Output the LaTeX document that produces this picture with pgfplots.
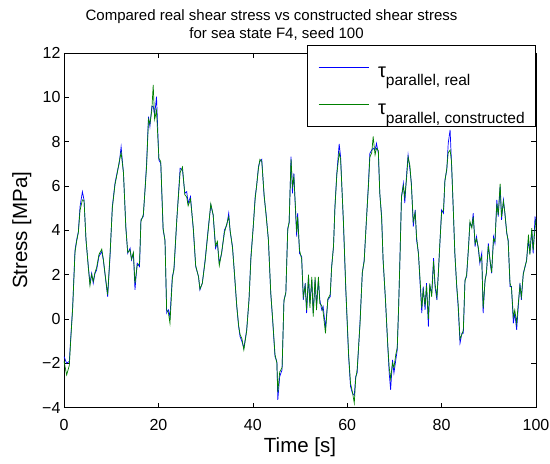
\documentclass[border=0pt]{standalone}
\usepackage{pgfplots}
\pgfplotsset{compat=1.18}
\usepackage{fontspec}
\setmainfont{Liberation Sans}
\definecolor{mblue}{RGB}{0,0,255}
\definecolor{mgreen}{RGB}{0,128,0}
\newcommand{\legtxt}[1]{\raisebox{0pt}[22pt][12pt]{\hspace*{9pt}{\fontsize{20}{20}\selectfont τ}\raisebox{-8.3pt}{\fontsize{15.5}{15.5}\selectfont #1}}}
\begin{document}
\begin{tikzpicture}[x=1pt,y=1pt]
\begin{axis}[
  name=ax,
  scale only axis,
  width=472pt, height=354.5pt,
  xmin=0, xmax=100, ymin=-4, ymax=12,
  xtick={0,20,...,100}, ytick={-4,-2,...,12},
  yticklabels={−4,−2,0,2,4,6,8,10,12},
  tick align=inside, tick pos=both,
  major tick length=5pt,
  axis line style={line width=0.6pt},
  tick style={line width=0.5pt, black},
  /pgf/number format/assume math mode=true,
  ticklabel style={font=\fontsize{16}{18}\selectfont},
  xticklabel style={yshift=-8pt},
  xlabel={Time [s]}, ylabel={Stress [MPa]},
  label style={font=\fontsize{20.5}{22}\selectfont},
  xlabel style={at={(axis description cs:0.5,-0.112)}, anchor=center},
  ylabel style={at={(axis description cs:-0.0896,0.5)}, anchor=center},
  title={Compared real shear stress vs constructed shear stress\\\hspace*{10pt}for sea state F4, seed 100},
  title style={align=center, font=\fontsize{15}{18.6}\selectfont, at={(axis description cs:0.5,1)}, anchor=south, inner sep=0pt, yshift=6pt, xshift=-28.5pt},
  legend cell align=left,
  legend style={at={(rel axis cs:1,1)}, anchor=north east, yshift=8pt, draw=black, line width=0.6pt,
    inner xsep=11pt, inner ysep=10pt, row sep=14pt, column sep=0pt,
    nodes={inner sep=0pt}},
  legend image code/.code={\draw[#1, line width=0.7pt] (0pt,0pt) -- (50pt,0pt);},
]
\addplot[mblue, line width=0.7pt] table {
0 -1.70
0.56 -2.0
1.13 -1.92
1.4 -0.95
1.84 0.56
2.33 3.1
2.68 3.56
3.04 3.94
3.4 5.07
3.9 5.74
4.24 5.37
4.66 3.56
5.16 2.36
5.5 1.61
5.86 2.06
6.2 1.61
6.57 2.06
6.9 2.2
7.4 2.81
8.0 3.04
8.33 2.66
8.83 1.76
9.25 1.0
9.75 2.81
10.24 5.07
10.8 6.12
11.3 6.65
11.7 7.02
12.1 7.77
12.6 6.57
13.1 4.17
13.5 2.96
14.0 3.19
14.3 2.66
14.7 2.96
15.04 1.31
15.5 2.51
16.0 2.36
16.3 4.47
16.8 4.62
17.2 5.97
17.5 7.02
17.9 9.13
18.2 8.68
18.6 9.58
18.9 9.6
19.2 9.2
19.6 10.03
20.1 7.17
20.5 7.02
21.0 4.01
21.4 3.56
21.75 0.26
22.1 0.41
22.45 0.1
22.95 1.91
23.3 2.2
23.9 4.47
24.6 6.8
25.1 6.72
25.6 5.67
26.0 5.74
26.3 5.22
26.8 5.52
27.4 4.01
27.9 2.36
28.5 1.91
28.8 1.31
29.3 1.61
29.9 2.66
30.6 4.17
31.1 5.14
31.6 4.69
32.1 3.19
32.5 3.41
32.9 2.51
33.4 2.96
34.0 4.01
34.5 4.24
34.9 4.77
35.2 3.94
35.7 3.26
36.1 2.06
36.6 0.56
37.0 -0.35
37.3 -0.8
37.7 -1.02
38.1 -1.32
38.7 -0.5
39.2 0.86
39.6 2.81
40.1 4.17
40.5 5.52
40.8 5.97
41.2 6.87
41.5 7.1
41.9 7.2
42.4 5.52
42.8 4.77
43.3 3.56
43.8 1.16
44.2 -0.05
44.7 -1.7
45.1 -1.92
45.3 -3.65
45.7 -2.6
46.2 -2.3
46.6 0.86
47.0 1.16
47.4 4.09
47.7 4.32
48.1 7.32
48.4 5.67
48.7 6.57
49.0 5.07
49.3 3.71
49.5 4.77
49.9 2.96
50.35 2.81
50.7 0.86
51.1 1.61
51.4 0.26
51.8 1.91
52.1 0.71
52.5 1.76
52.8 0.26
53.2 1.76
53.5 0.56
53.9 1.76
54.2 0.86
54.6 0.41
54.9 0.56
55.4 -0.4
55.9 0.86
56.4 1.0
56.7 2.36
57.1 3.26
57.4 5.07
57.8 6.57
58.3 7.9
58.6 7.32
59.2 4.32
59.7 1.31
60.3 -1.7
60.7 -3.05
61.1 -3.35
61.5 -3.45
61.8 -2.6
62.1 -2.45
62.7 -0.2
63.2 2.06
63.6 2.66
64.0 4.17
64.5 6.12
64.8 7.47
65.2 7.62
65.5 7.7
65.9 7.62
66.2 7.92
66.6 7.47
66.9 5.67
67.3 4.62
67.6 2.66
68.1 0.86
68.6 -1.25
68.9 -2.45
69.2 -3.2
69.6 -1.85
69.9 -2.45
70.3 -1.85
70.6 -1.4
70.9 0.56
71.2 2.96
71.5 5.52
71.9 6.12
72.2 5.22
72.6 6.57
72.9 7.4
73.3 6.72
73.6 6.12
74.0 4.17
74.4 4.92
74.7 3.56
75.1 2.96
75.4 1.76
75.8 0.26
76.1 1.46
76.5 0.41
76.8 1.61
77.2 -0.35
77.5 1.46
77.9 1.16
78.3 2.74
78.6 1.46
79.0 0.86
79.3 2.06
79.6 3.26
80.0 4.92
80.4 4.77
80.7 6.27
81.1 6.72
81.4 7.92
81.8 8.53
82.1 7.02
82.5 4.77
82.8 2.96
83.2 1.46
83.5 0.56
83.9 -1.1
84.3 -0.65
84.6 -0.65
84.95 1.76
85.3 1.91
85.7 3.26
86.0 4.32
86.4 4.17
86.7 4.77
87.1 3.26
87.4 3.71
87.8 3.11
88.1 2.51
88.5 2.96
88.8 0.26
89.2 1.76
89.5 2.06
89.9 3.41
90.3 2.51
90.6 2.06
91.0 3.71
91.3 3.41
91.7 5.37
92.0 4.62
92.4 5.97
92.7 4.47
93.1 5.37
93.4 4.77
93.8 3.86
94.1 3.56
94.5 1.46
94.8 1.46
95.2 -0.2
95.5 0.26
95.9 -0.5
96.2 0.41
96.6 1.61
96.9 0.86
97.3 2.06
97.7 2.36
98.0 2.66
98.4 3.56
98.7 2.96
99.1 4.01
99.4 2.96
99.8 4.62
100 4.3
};
\addlegendentry{\legtxt{parallel, real}}
\addplot[mgreen, line width=0.7pt] table {
0 -1.9
0.56 -2.53
1.13 -2.1
1.4 -1.05
1.84 0.5
2.33 3.0
2.68 3.5
3.04 3.9
3.4 4.9
3.9 5.37
4.24 5.35
4.66 3.6
5.16 2.3
5.5 1.5
5.86 2.0
6.2 1.7
6.57 2.1
6.9 2.3
7.4 2.9
8.0 3.15
8.33 2.7
8.83 1.8
9.25 1.1
9.75 2.9
10.24 5.0
10.8 6.05
11.3 6.6
11.7 7.1
12.1 7.5
12.6 6.6
13.1 4.1
13.5 3.0
14.0 3.1
14.3 2.7
14.7 3.0
15.04 1.6
15.5 2.4
16.0 2.5
16.3 4.4
16.8 4.7
17.2 5.9
17.5 6.9
17.9 9.0
18.2 8.8
18.6 9.4
18.9 10.56
19.2 9.0
19.6 9.4
20.1 7.25
20.5 7.1
21.0 4.1
21.4 3.5
21.75 0.4
22.1 0.3
22.45 -0.2
22.95 1.8
23.3 2.3
23.9 4.5
24.6 6.6
25.1 6.85
25.6 5.6
26.0 5.5
26.3 5.1
26.8 5.4
27.4 4.1
27.9 2.4
28.5 1.9
28.8 1.35
29.3 1.6
29.9 2.6
30.6 4.1
31.1 5.2
31.6 4.7
32.1 3.3
32.5 3.5
32.9 2.4
33.4 3.0
34.0 3.9
34.5 4.3
34.9 4.6
35.2 4.0
35.7 3.2
36.1 2.1
36.6 0.6
37.0 -0.3
37.3 -0.7
37.7 -0.9
38.1 -1.4
38.7 -0.55
39.2 0.9
39.6 2.7
40.1 4.2
40.5 5.4
40.8 6.0
41.2 6.8
41.5 7.2
41.9 7.1
42.4 5.6
42.8 4.7
43.3 3.6
43.8 1.2
44.2 0.0
44.7 -1.6
45.1 -2.0
45.3 -3.3
45.7 -2.4
46.2 -2.2
46.6 0.8
47.0 1.2
47.4 4.0
47.7 4.4
48.1 7.2
48.4 6.0
48.7 6.4
49.0 5.2
49.3 3.9
49.5 4.6
49.9 3.1
50.35 2.7
50.7 1.0
51.1 1.5
51.4 0.4
51.8 2.0
52.1 0.5
52.5 1.9
52.8 0.1
53.2 1.9
53.5 0.4
53.9 1.9
54.2 0.7
54.6 0.6
54.9 0.3
55.4 -0.65
55.9 0.9
56.4 1.1
56.7 2.3
57.1 3.3
57.4 5.0
57.8 6.5
58.3 7.5
58.6 7.2
59.2 4.4
59.7 1.4
60.3 -1.6
60.7 -2.9
61.1 -3.3
61.5 -3.8
61.8 -2.7
62.1 -2.3
62.7 -0.3
63.2 2.1
63.6 2.6
64.0 4.2
64.5 6.0
64.8 7.3
65.2 7.5
65.5 8.23
65.9 7.4
66.2 7.7
66.6 7.6
66.9 5.7
67.3 4.5
67.6 2.7
68.1 0.9
68.6 -1.2
68.9 -2.2
69.2 -2.7
69.6 -2.0
69.9 -2.2
70.3 -1.6
70.6 -1.3
70.9 0.6
71.2 2.9
71.5 5.5
71.9 6.0
72.2 5.5
72.6 6.4
72.9 7.3
73.3 6.9
73.6 6.0
74.0 4.4
74.4 4.8
74.7 3.7
75.1 2.9
75.4 1.9
75.8 0.5
76.1 1.3
76.5 0.6
76.8 1.5
77.2 0.0
77.5 1.6
77.9 1.0
78.3 2.6
78.6 1.6
79.0 1.0
79.3 2.0
79.6 3.3
80.0 4.8
80.4 4.9
80.7 6.2
81.1 6.8
81.4 7.5
81.8 7.62
82.1 7.1
82.5 4.8
82.8 3.0
83.2 1.5
83.5 0.7
83.9 -0.9
84.3 -0.7
84.6 -0.5
84.95 1.7
85.3 2.0
85.7 3.2
86.0 4.4
86.4 4.1
86.7 4.6
87.1 3.4
87.4 3.6
87.8 3.2
88.1 2.6
88.5 2.8
88.8 0.5
89.2 1.7
89.5 2.1
89.9 3.3
90.3 2.6
90.6 2.1
91.0 3.6
91.3 3.5
91.7 5.2
92.0 4.7
92.4 6.1
92.7 4.6
93.1 5.3
93.4 4.8
93.8 3.9
94.1 3.5
94.5 1.6
94.8 1.4
95.2 0.1
95.5 0.4
95.9 -0.2
96.2 0.6
96.6 1.5
96.9 1.0
97.3 2.0
97.7 2.4
98.0 2.6
98.4 3.8
98.7 2.9
99.1 4.1
99.4 3.1
99.8 4.1
100 4.5
};
\addlegendentry{\legtxt{parallel, constructed}}
\end{axis}
\pgfresetboundingbox
\path[use as bounding box] ([shift={(-64pt,-55.5pt)}]ax.south west) rectangle ([shift={(14pt,53pt)}]ax.north east);
\end{tikzpicture}
\end{document}
